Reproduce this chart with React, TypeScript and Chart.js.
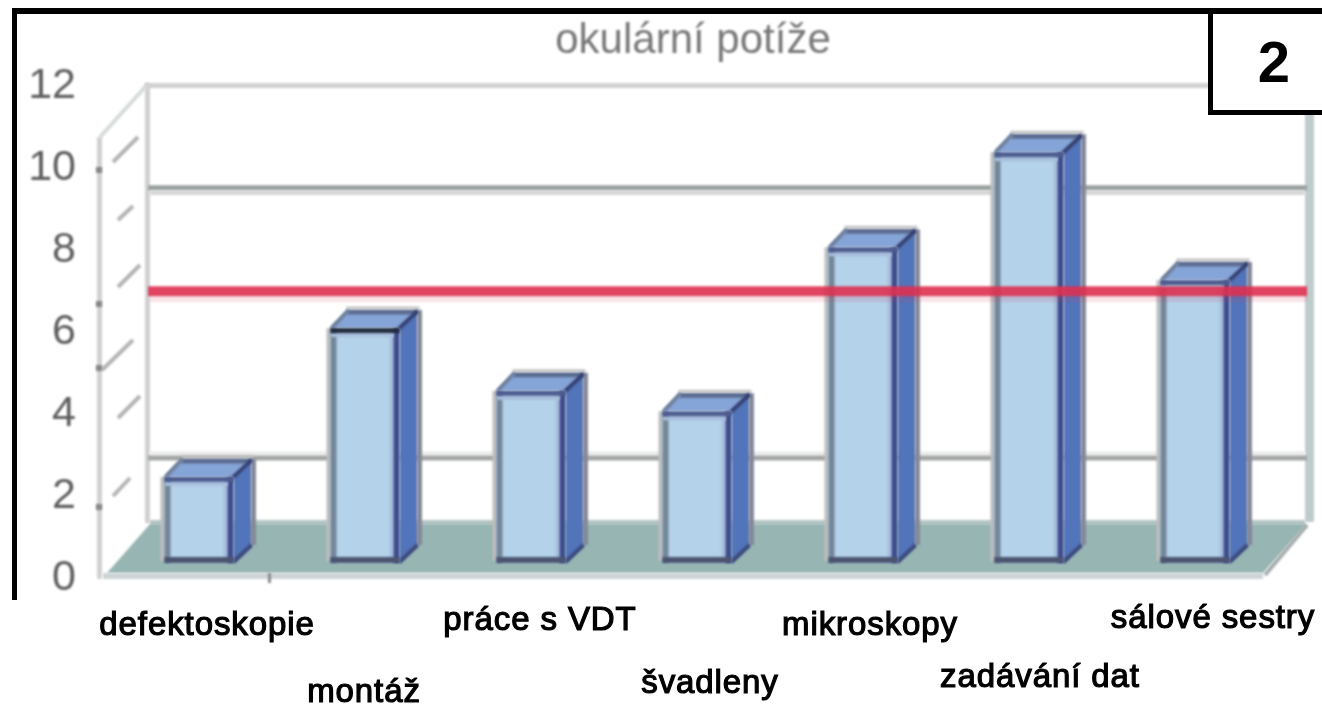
import React, { useEffect, useRef } from "react";
import { Chart, registerables } from "chart.js";

Chart.register(...registerables);

const chartTitle = "okulární potíže";
const panelNumber = "2";
const categories = ["defektoskopie", "montáž", "práce s VDT", "švadleny", "mikroskopy", "zadávání dat", "sálové sestry"];
const barValues = [2.1, 5.73, 4.2, 3.7, 7.7, 10.02, 6.9];
const referenceLevel = 6.63;
const wallRuleLevels = [2.56, 9.15];
const wallSpan = [-0.307, 6.675];
const yTickStep = 2;
const yTickMax = 12;

const labelNudge = [8, -1, 9, 13, 7, 11, 18];
const labelBaseline = [635, 702, 630, 693, 635, 687, 628];
const wallDashes = [
  [113, 162, 138, 137], [118, 220, 133, 206], [118, 287, 140, 265],
  [102, 370, 133, 340], [118, 418, 140, 396], [113, 496, 130, 478],
];
const wallTicks = [170, 304, 368, 507];

const DEPTH = 18;

const rect = (ctx: any, x: number, y: number, w: number, h: number, c: string) => {
  ctx.fillStyle = c;
  ctx.fillRect(x, y, w, h);
};

const poly = (ctx: any, pts: number[][], c: string) => {
  ctx.fillStyle = c;
  ctx.beginPath();
  pts.forEach(([x, y], i) => (i ? ctx.lineTo(x, y) : ctx.moveTo(x, y)));
  ctx.closePath();
  ctx.fill();
};

const line = (ctx: any, x0: number, y0: number, x1: number, y1: number, c: string, w: number) => {
  ctx.strokeStyle = c;
  ctx.lineWidth = w;
  ctx.beginPath();
  ctx.moveTo(x0, y0);
  ctx.lineTo(x1, y1);
  ctx.stroke();
};

const scenePlugin = {
  id: "scene",
  afterLayout(chart: any) {
    chart.titleBlock.left -= 4;
    chart.titleBlock.right -= 4;
  },
  beforeDraw(chart: any) {
    chart.ctx.filter = "blur(0.9px)";
  },
  beforeDatasetsDraw(chart: any) {
    const ctx = chart.ctx;
    // back wall
    rect(ctx, 145, 83, 1070, 5, "#D2D2D2");
    rect(ctx, 145, 83, 5, 440, "#D0D0D0");
    rect(ctx, 1305, 110, 9, 412, "#BFCCCC");
    rect(ctx, 150, 191, 1155, 4, "#D4D7D5");
    rect(ctx, 150, 451, 1155, 5, "#EDEFEE");
    // left wall
    rect(ctx, 97, 137, 5, 442, "#D0D0D0");
    line(ctx, 100, 137, 147, 85, "#D5DADA", 4);
    wallDashes.forEach(([a, b, c, d]) => line(ctx, a, b, c, d, "#B4B4B4", 4));
    wallTicks.forEach((y) => rect(ctx, 96, y - 3, 6, 6, "#888888"));
    // floor
    rect(ctx, 150, 520, 1155, 5, "#B4C6C3");
    poly(ctx, [[150, 524], [1307, 524], [1263, 573], [107, 573]], "#97B5B3");
    rect(ctx, 103, 573, 1160, 6, "#CDD4D6");
    line(ctx, 1265, 575, 1307, 525, "#A5ACAC", 4);
    rect(ctx, 268, 573, 3, 10, "#8A8A8A");
  },
  beforeDatasetDraw(chart: any, args: any) {
    if (args.meta.type !== "bar") return;
    const ctx = chart.ctx;
    args.meta.data.forEach((b: any) => {
      const x0 = b.x - b.width / 2;
      const x1 = b.x + b.width / 2;
      const top = b.y;
      const base = b.base;
      rect(ctx, x0 - 4, top, 5, base - top - 2, "#BDBDBD");
      poly(ctx, [[x1, top], [x1 + DEPTH, top - DEPTH], [x1 + DEPTH, base - DEPTH], [x1, base]], "#5274BA");
      poly(ctx, [[x0, top], [x0 + DEPTH, top - DEPTH], [x1 + DEPTH, top - DEPTH], [x1, top]], "#85A5D8");
      line(ctx, x0 + DEPTH - 1, top - DEPTH + 2, x1 + DEPTH, top - DEPTH + 2, "#5C6C90", 5);
      line(ctx, x0 + DEPTH - 2, top - DEPTH - 2, x1 + DEPTH + 2, top - DEPTH - 2, "#C4C4C4", 3);
      line(ctx, x1 + DEPTH + 2, top - DEPTH, x1 + DEPTH + 2, base - DEPTH, "#84889A", 5);
      line(ctx, x0 + 1, top, x0 + DEPTH, top - DEPTH, "#6F809C", 4);
      line(ctx, x1 - 1, top + 1, x1 + DEPTH, top - DEPTH + 1, "#333F72", 4);
      line(ctx, x1, base - 1, x1 + DEPTH, base - DEPTH, "#3C4A7C", 4);
    });
  },
  afterDatasetDraw(chart: any, args: any) {
    if (args.meta.type !== "bar") return;
    const ctx = chart.ctx;
    args.meta.data.forEach((b: any, i: number) => {
      const x0 = b.x - b.width / 2;
      const x1 = b.x + b.width / 2;
      rect(ctx, x1 - 10, b.y, 5, b.base - b.y, "#A8BEDC");
      rect(ctx, x0, b.y, 6, b.base - b.y, "#748798");
      rect(ctx, x1 - 6, b.y, 6, b.base - b.y, "#3E4C8C");
      rect(ctx, x0, b.y + 5, b.width - 6, 4, "#A8BEDC");
      rect(ctx, x0, b.y, b.width, 5, i === 1 ? "#252D40" : "#4E5C90");
      rect(ctx, x0, b.base - 6, b.width, 6, "#4C5570");
    });
  },
  afterDatasetsDraw(chart: any) {
    rect(chart.ctx, 150, 296, 1157, 6, "rgba(215,60,90,0.14)");
  },
  afterDraw(chart: any) {
    const ctx = chart.ctx;
    const xs = chart.scales.x;
    ctx.save();
    ctx.filter = "blur(0.5px)";
    ctx.font = "33px 'Liberation Sans', sans-serif";
    ctx.letterSpacing = "0.9px";
    ctx.textAlign = "center";
    ctx.textBaseline = "alphabetic";
    ctx.fillStyle = "#000000";
    ctx.strokeStyle = "#000000";
    ctx.lineWidth = 1.2;
    categories.forEach((c, i) => {
      const x = xs.getPixelForValue(i) + labelNudge[i];
      ctx.fillText(c, x, labelBaseline[i]);
      ctx.strokeText(c, x, labelBaseline[i]);
    });
    ctx.restore();
    ctx.save();
    ctx.filter = "none";
    // frame and number box, sharp in the reference
    rect(ctx, 1213, 14, 109, 96, "#FFFFFF");
    rect(ctx, 12, 8, 1310, 6, "#000000");
    rect(ctx, 12, 8, 5, 592, "#000000");
    rect(ctx, 1208, 14, 5, 101, "#000000");
    rect(ctx, 1208, 110, 114, 5, "#000000");
    ctx.font = "bold 58px 'Liberation Sans', sans-serif";
    ctx.textAlign = "center";
    ctx.textBaseline = "alphabetic";
    ctx.fillStyle = "#000000";
    ctx.fillText(panelNumber, 1274, 82);
    ctx.restore();
    ctx.filter = "none";
  },
};

export default function App() {
  const ref = useRef<HTMLCanvasElement>(null);

  useEffect(() => {
    const chart = new Chart(ref.current as HTMLCanvasElement, {
      type: "bar",
      data: {
        labels: categories,
        datasets: [
          {
            type: "line",
            label: "wall rules low",
            data: [{ x: wallSpan[0], y: wallRuleLevels[0] }, { x: wallSpan[1], y: wallRuleLevels[0] }],
            xAxisID: "xWall",
            yAxisID: "yBars",
            borderColor: "#A2A5A4",
            borderWidth: 5,
            pointRadius: 0,
            clip: false,
            order: 3,
          },
          {
            type: "line",
            label: "wall rules high",
            data: [{ x: wallSpan[0], y: wallRuleLevels[1] }, { x: wallSpan[1], y: wallRuleLevels[1] }],
            xAxisID: "xWall",
            yAxisID: "yBars",
            borderColor: "#9AA09F",
            borderWidth: 5,
            pointRadius: 0,
            clip: false,
            order: 3,
          },
          {
            type: "bar",
            label: "okulární potíže",
            data: barValues,
            xAxisID: "x",
            yAxisID: "yBars",
            backgroundColor: "#B4D2EA",
            borderWidth: 0,
            grouped: false,
            categoryPercentage: 1,
            barPercentage: 0.4157,
            order: 2,
          },
          {
            type: "line",
            label: "reference",
            data: [{ x: wallSpan[0], y: referenceLevel }, { x: wallSpan[1], y: referenceLevel }],
            xAxisID: "xWall",
            yAxisID: "yBars",
            borderColor: "rgba(222,48,80,0.9)",
            borderWidth: 10,
            pointRadius: 0,
            clip: false,
            order: 1,
          },
        ],
      } as any,
      options: {
        responsive: false,
        animation: false,
        layout: { padding: { left: 0, top: 16, right: 44, bottom: 128 } },
        plugins: {
          legend: { display: false },
          tooltip: { enabled: false },
          title: {
            display: true,
            text: chartTitle,
            fullSize: false,
            color: "#787878",
            font: { family: "'Liberation Sans', sans-serif", size: 42, weight: "normal", lineHeight: 1.2 },
            padding: { top: 0, bottom: 19.6 },
          },
        },
        scales: {
          x: { type: "category", display: false },
          xWall: { type: "linear", display: false, min: -0.5, max: 6.5, offset: false },
          yBars: { type: "linear", display: false, min: -0.366, max: 11.634 },
          y: {
            type: "linear",
            position: "left",
            min: 0,
            max: yTickMax,
            grid: { display: false },
            border: { display: false },
            ticks: {
              stepSize: yTickStep,
              padding: 32,
              color: "#5E5E5E",
              font: { family: "'Liberation Sans', sans-serif", size: 43 },
            },
            afterFit: (s: any) => {
              s.width = 116;
            },
          },
        },
      } as any,
      plugins: [scenePlugin],
    });
    return () => chart.destroy();
  }, []);

  return (
    <canvas
      ref={ref}
      width={1322}
      height={706}
      style={{ position: "absolute", left: 0, top: 0, display: "block", background: "#FFFFFF" }}
    />
  );
}
